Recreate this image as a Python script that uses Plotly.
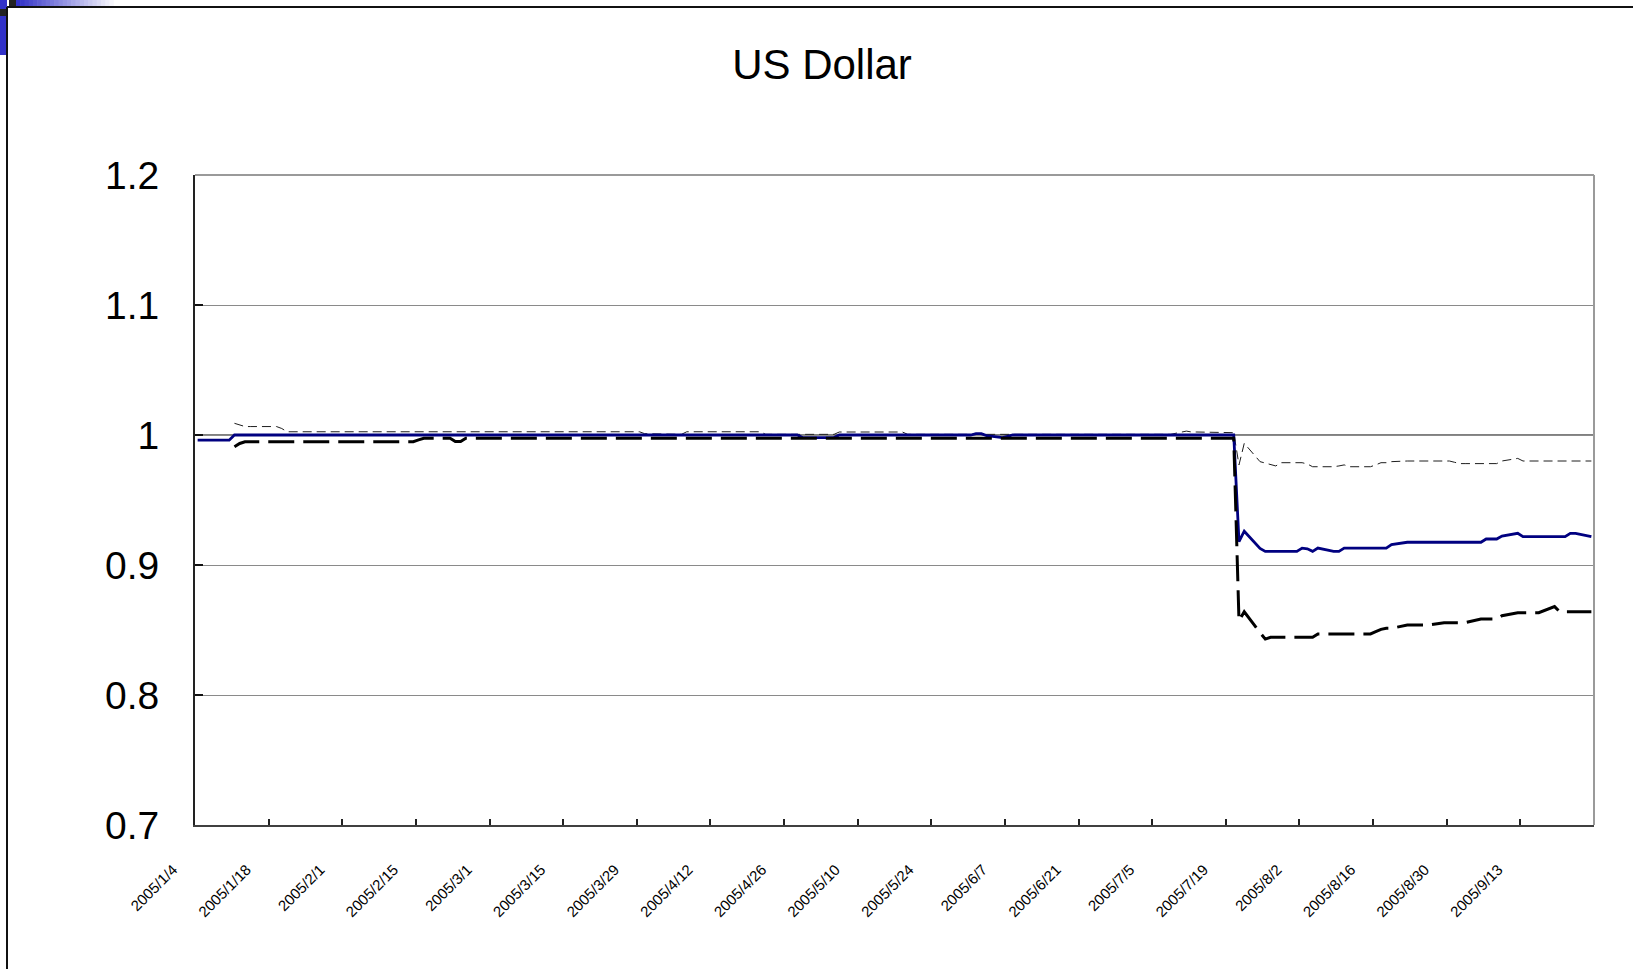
import pandas as pd
import plotly.graph_objects as go

# Trading days (weekdays) covered by the series
trade_days = [d.strftime("%Y-%m-%d") for d in pd.bdate_range("2005-01-04", "2005-09-26")]

# Axis labels, one every two weeks
tick_labels = ["2005/1/4", "2005/1/18", "2005/2/1", "2005/2/15", "2005/3/1", "2005/3/15",
               "2005/3/29", "2005/4/12", "2005/4/26", "2005/5/10", "2005/5/24", "2005/6/7",
               "2005/6/21", "2005/7/5", "2005/7/19", "2005/8/2", "2005/8/16", "2005/8/30",
               "2005/9/13"]
y_ticks = [0.7, 0.8, 0.9, 1.0, 1.1, 1.2]
y_tick_text = ["0.7", "0.8", "0.9", "1", "1.1", "1.2"]

# Main series (solid navy line)
usd = [
    # Jan
    0.996, 0.996, 0.996, 0.996, 0.996, 1.0, 1.0, 1.0, 1.0, 1.0,
    1.0, 1.0, 1.0, 1.0, 1.0, 1.0, 1.0, 1.0, 1.0, 1.0,
    # Feb
    1.0, 1.0, 1.0, 1.0, 1.0, 1.0, 1.0, 1.0, 1.0, 1.0,
    1.0, 1.0, 1.0, 1.0, 1.0, 1.0, 1.0, 1.0, 1.0, 1.0,
    # Mar
    1.0, 1.0, 1.0, 1.0, 1.0, 1.0, 1.0, 1.0, 1.0, 1.0,
    1.0, 1.0, 1.0, 1.0, 1.0, 1.0, 1.0, 1.0, 1.0, 1.0,
    1.0, 1.0, 1.0,
    # Apr
    1.0, 1.0, 0.9995, 0.9995, 1.0, 1.0, 1.0, 1.0, 1.0, 1.0,
    1.0, 1.0, 1.0, 1.0, 1.0, 1.0, 1.0, 1.0, 1.0, 1.0,
    0.998,
    # May
    0.998, 0.998, 0.998, 0.998, 1.0, 1.0, 1.0, 1.0, 1.0, 1.0,
    1.0, 1.0, 1.0, 1.0, 1.0, 1.0, 1.0, 1.0, 1.0, 1.0,
    1.0, 1.0,
    # Jun
    1.001, 1.001, 0.9995, 0.998, 0.999, 1.0, 1.0, 1.0, 1.0, 1.0,
    1.0, 1.0, 1.0, 1.0, 1.0, 1.0, 1.0, 1.0, 1.0, 1.0,
    1.0, 1.0,
    # Jul
    1.0, 1.0, 1.0, 1.0, 1.0, 1.0, 1.0, 1.0, 1.0, 1.0,
    1.0, 1.0, 1.0, 1.0, 0.918, 0.926, 0.9128, 0.9105, 0.9105, 0.9105,
    0.9105,
    # Aug
    0.9105, 0.913, 0.9125, 0.9105, 0.913, 0.9105, 0.9105, 0.913, 0.913, 0.913,
    0.913, 0.913, 0.913, 0.913, 0.9157, 0.9175, 0.9175, 0.9175, 0.9175, 0.9175,
    0.9175, 0.9175, 0.9175,
    # Sep
    0.9175, 0.9175, 0.9175, 0.920, 0.920, 0.920, 0.9223, 0.9244, 0.9218, 0.9218,
    0.9218, 0.9218, 0.9218, 0.9218, 0.9218, 0.9244, 0.9244, 0.9218,
]

# Upper band (thin dashed)
upper = [
    # Jan
    None, None, None, None, None, 1.009, 1.0075, 1.0065, 1.0065, 1.0065,
    1.0065, 1.0065, 1.005, 1.0025, 1.0025, 1.0025, 1.0025, 1.0025, 1.0025, 1.0025,
    # Feb
    1.0025, 1.0025, 1.0025, 1.0025, 1.0025, 1.0025, 1.0025, 1.0025, 1.0025, 1.0025,
    1.0025, 1.0025, 1.0025, 1.0025, 1.0025, 1.0025, 1.0025, 1.0025, 1.0025, 1.0025,
    # Mar
    1.0025, 1.0025, 1.0025, 1.0025, 1.0025, 1.0025, 1.0025, 1.0025, 1.0025, 1.0025,
    1.0025, 1.0025, 1.0025, 1.0025, 1.0025, 1.0025, 1.0025, 1.0025, 1.0025, 1.0025,
    1.0025, 1.001, 1.001,
    # Apr
    1.001, 1.0005, 1.0005, 1.0005, 1.0025, 1.0025, 1.0025, 1.0025, 1.0025, 1.0025,
    1.0025, 1.0025, 1.0025, 1.0025, 1.0025, 1.0005, 1.0005, 1.0005, 1.0005, 1.0005,
    1.0005,
    # May
    1.0005, 1.0005, 1.0005, 1.0005, 1.0023, 1.0023, 1.0023, 1.0023, 1.0023, 1.0023,
    1.0023, 1.0023, 1.0023, 1.0005, 1.0005, 1.0005, 1.0005, 1.0005, 1.0005, 1.0005,
    1.0005, 1.0005,
    # Jun
    1.0005, 1.0005, 1.0005, 1.0005, 1.0005, 1.0005, 1.0005, 1.0005, 1.0005, 1.0005,
    1.0005, 1.0005, 1.0005, 1.0005, 1.0005, 1.0005, 1.0005, 1.0005, 1.0005, 1.0005,
    1.0005, 1.0005,
    # Jul
    1.0005, 1.0005, 1.0005, 1.0005, 1.0005, 1.0005, 1.003, 1.0023, 1.0023, 1.0023,
    1.0023, 1.0023, 1.0023, 1.0018, 0.977, 0.9936, 0.9795, 0.9782, 0.9775, 0.9762,
    0.9787,
    # Aug
    0.9787, 0.9787, 0.9777, 0.9756, 0.9756, 0.9756, 0.9762, 0.977, 0.9756, 0.9756,
    0.9756, 0.977, 0.9787, 0.9787, 0.9795, 0.980, 0.980, 0.980, 0.980, 0.980,
    0.980, 0.980, 0.979,
    # Sep
    0.978, 0.978, 0.978, 0.978, 0.978, 0.978, 0.980, 0.982, 0.980, 0.980,
    0.980, 0.980, 0.980, 0.980, 0.980, 0.980, 0.980, 0.980,
]

# Lower band (thick dashed)
lower = [
    # Jan
    None, None, None, None, None, 0.991, 0.9935, 0.9948, 0.9948, 0.9948,
    0.9948, 0.9948, 0.9948, 0.9948, 0.9948, 0.9948, 0.9948, 0.9948, 0.9948, 0.9948,
    # Feb
    0.9948, 0.9948, 0.9948, 0.9948, 0.9948, 0.9948, 0.9948, 0.9948, 0.9948, 0.9948,
    0.9962, 0.9975, 0.9975, 0.9975, 0.9975, 0.995, 0.995, 0.9975, 0.9975, 0.9975,
    # Mar
    0.9975, 0.9975, 0.9975, 0.9975, 0.9975, 0.9975, 0.9975, 0.9975, 0.9975, 0.9975,
    0.9975, 0.9975, 0.9975, 0.9975, 0.9975, 0.9975, 0.9975, 0.9975, 0.9975, 0.9975,
    0.9975, 0.9975, 0.9975,
    # Apr
    0.9975, 0.9975, 0.9975, 0.9975, 0.9975, 0.9975, 0.9975, 0.9975, 0.9975, 0.9975,
    0.9975, 0.9975, 0.9975, 0.9975, 0.9975, 0.9975, 0.9975, 0.9975, 0.9975, 0.9975,
    0.9975,
    # May
    0.9975, 0.9975, 0.9975, 0.9975, 0.9975, 0.9975, 0.9975, 0.9975, 0.9975, 0.9975,
    0.9975, 0.9975, 0.9975, 0.9975, 0.9975, 0.9975, 0.9975, 0.9975, 0.9975, 0.9975,
    0.9975, 0.9975,
    # Jun
    0.9975, 0.9975, 0.9975, 0.9975, 0.9975, 0.9975, 0.9975, 0.9975, 0.9975, 0.9975,
    0.9975, 0.9975, 0.9975, 0.9975, 0.9975, 0.9975, 0.9975, 0.9975, 0.9975, 0.9975,
    0.9975, 0.9975,
    # Jul
    0.9975, 0.9975, 0.9975, 0.9975, 0.9975, 0.9975, 0.9975, 0.9975, 0.9975, 0.9975,
    0.9975, 0.9975, 0.9975, 0.9975, 0.857, 0.864, 0.848, 0.843, 0.8444, 0.8444,
    0.8444,
    # Aug
    0.8444, 0.8444, 0.8444, 0.8444, 0.847, 0.847, 0.847, 0.847, 0.847, 0.847,
    0.847, 0.8487, 0.8505, 0.8513, 0.8513, 0.8538, 0.8538, 0.8538, 0.8538, 0.8538,
    0.8556, 0.8556, 0.8556,
    # Sep
    0.8556, 0.8556, 0.8585, 0.8585, 0.8585, 0.8585, 0.861, 0.8633, 0.8633, 0.8633,
    0.8633, 0.8633, 0.868, 0.864, 0.864, 0.864, 0.864, 0.864,
]

assert len(usd) == len(trade_days), len(usd)
assert len(upper) == len(trade_days), len(upper)
assert len(lower) == len(trade_days), len(lower)

# Page geometry (pixels)
W_PAGE, H_PAGE = 1633, 969
M_L, M_R, M_T, M_B = 195, 39, 175, 144
PLOT_W = W_PAGE - M_L - M_R
PLOT_H = H_PAGE - M_T - M_B


def px_x(px):
    return (px - M_L) / PLOT_W


def px_y(py):
    return (H_PAGE - M_B - py) / PLOT_H


# Tick marks sit on the boundary half a day before each labelled date
tick_vals = [(pd.Timestamp(t.replace("/", "-")) - pd.Timedelta(hours=12)).strftime("%Y-%m-%d %H:%M")
             for t in tick_labels]
x_start = (pd.Timestamp(trade_days[0]) - pd.Timedelta(hours=12)).strftime("%Y-%m-%d %H:%M")
x_end = (pd.Timestamp(trade_days[-1]) + pd.Timedelta(hours=12)).strftime("%Y-%m-%d %H:%M")

fig = go.Figure()
fig.add_trace(go.Scatter(x=trade_days, y=upper, mode="lines", name="upper",
                         line=dict(color="#1e1e1e", width=1, dash="9px,5px")))
fig.add_trace(go.Scatter(x=trade_days, y=usd, mode="lines", name="USD",
                         line=dict(color="#000080", width=2.8)))
fig.add_trace(go.Scatter(x=trade_days, y=lower, mode="lines", name="lower",
                         line=dict(color="#000000", width=3, dash="26px,9px")))

shapes = []
# Reference line at parity
shapes.append(dict(type="line", xref="paper", yref="y", x0=0, x1=1, y0=1.0, y1=1.0,
                   line=dict(color="#000000", width=1), layer="below"))
# Top and right frame of the plot area
shapes.append(dict(type="line", xref="paper", yref="paper", x0=0, x1=1, y0=1, y1=1,
                   line=dict(color="#9a9a9a", width=2)))
shapes.append(dict(type="line", xref="paper", yref="paper", x0=1, x1=1, y0=0, y1=1,
                   line=dict(color="#9a9a9a", width=2)))

# Slide frame and corner ornament
FRAME = "#111111"
BLUE = (50, 50, 200)
shapes.append(dict(type="rect", xref="paper", yref="paper",
                   x0=px_x(0), x1=px_x(7), y0=px_y(55), y1=px_y(0),
                   fillcolor="rgb(50,50,200)", line=dict(width=0)))
steps = 24
x_a, x_b = 16, 118
for k in range(steps):
    f = k / (steps - 1)
    c = tuple(int(BLUE[j] + (255 - BLUE[j]) * f) for j in range(3))
    xa = x_a + (x_b - x_a) * k / steps
    xb = x_a + (x_b - x_a) * (k + 1) / steps + 0.6
    shapes.append(dict(type="rect", xref="paper", yref="paper",
                       x0=px_x(xa), x1=px_x(xb), y0=px_y(6.5), y1=px_y(0),
                       fillcolor="rgb(%d,%d,%d)" % c, line=dict(width=0)))
shapes.append(dict(type="rect", xref="paper", yref="paper",
                   x0=px_x(9), x1=px_x(16), y0=px_y(6.5), y1=px_y(0),
                   fillcolor="#222222", line=dict(width=0)))
shapes.append(dict(type="rect", xref="paper", yref="paper",
                   x0=px_x(0), x1=px_x(6.5), y0=px_y(16), y1=px_y(9),
                   fillcolor="#222222", line=dict(width=0)))
shapes.append(dict(type="line", xref="paper", yref="paper",
                   x0=px_x(7), x1=px_x(W_PAGE), y0=px_y(7), y1=px_y(7),
                   line=dict(color=FRAME, width=2)))
shapes.append(dict(type="line", xref="paper", yref="paper",
                   x0=px_x(7), x1=px_x(7), y0=px_y(7), y1=px_y(H_PAGE),
                   line=dict(color=FRAME, width=2)))

FONT = "Liberation Sans, Arial, sans-serif"

fig.update_layout(
    width=W_PAGE, height=H_PAGE,
    margin=dict(l=M_L, r=M_R, t=M_T, b=M_B, pad=0),
    paper_bgcolor="#ffffff", plot_bgcolor="#ffffff",
    showlegend=False,
    title=dict(text="US Dollar", x=822 / W_PAGE, xref="container", xanchor="center",
               y=1 - 64 / H_PAGE, yref="container", yanchor="middle",
               font=dict(family=FONT, size=42, color="#000000")),
    shapes=shapes,
    xaxis=dict(
        type="date", range=[x_start, x_end],
        tickmode="array", tickvals=tick_vals, ticktext=tick_labels,
        tickangle=-45, tickfont=dict(family=FONT, size=15, color="#000000"),
        ticks="inside", ticklen=6, tickwidth=1.5, tickcolor="#222222",
        ticklabelshift=-22, ticklabelstandoff=28,
        showgrid=False, zeroline=False,
        showline=True, linecolor="#404040", linewidth=2,
    ),
    yaxis=dict(
        range=[0.7, 1.2],
        tickmode="array", tickvals=y_ticks, ticktext=y_tick_text,
        tickfont=dict(family=FONT, size=39, color="#000000"),
        ticks="inside", ticklen=8, tickwidth=2, tickcolor="#111111",
        ticklabelstandoff=26,
        showgrid=True, gridcolor="#8a8a8a", gridwidth=1,
        zeroline=False,
        showline=True, linecolor="#222222", linewidth=2,
    ),
)

fig.write_html("out.html")
